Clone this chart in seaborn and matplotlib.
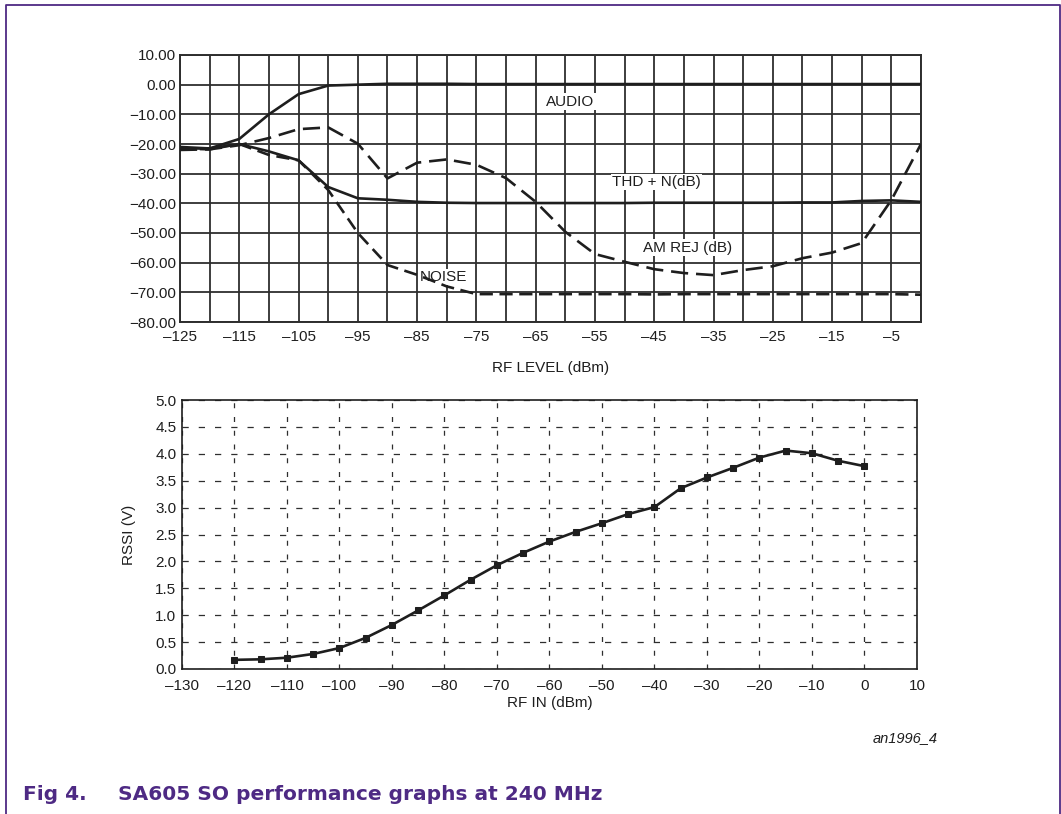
import numpy as np
import pandas as pd
import matplotlib
matplotlib.use("Agg")
import matplotlib.pyplot as plt
from matplotlib.lines import Line2D
from matplotlib.ticker import FixedLocator, FuncFormatter
import seaborn as sns

# ---------------- data: top chart ----------------
rf_level = [-125, -120, -115, -110, -105, -100, -95, -90, -85, -80, -75, -70, -65,
            -60, -55, -50, -45, -40, -35, -30, -25, -20, -15, -10, -5, 0]
audio = [-21.5, -21.5, -18.3, -10.0, -3.2, -0.3, 0.0, 0.3, 0.3, 0.3, 0.2, 0.2, 0.2,
         0.2, 0.2, 0.2, 0.2, 0.2, 0.2, 0.2, 0.2, 0.2, 0.2, 0.2, 0.2, 0.2]
am_rej = [-22.0, -21.8, -20.4, -18.0, -15.0, -14.4, -19.9, -31.6, -26.3, -25.2, -27.0,
          -31.5, -39.5, -49.6, -57.1, -59.7, -62.2, -63.5, -64.2, -62.5, -61.2, -58.5,
          -56.6, -53.4, -38.9, -20.0]
thd_n = [-21.0, -21.5, -20.0, -22.5, -25.5, -34.5, -38.3, -38.8, -39.5, -39.8, -39.9,
         -39.9, -39.9, -39.9, -39.9, -39.9, -39.8, -39.8, -39.8, -39.8, -39.8, -39.7,
         -39.7, -39.2, -39.0, -39.5]
noise = [-21.5, -21.8, -20.0, -23.7, -25.5, -35.5, -50.0, -60.8, -64.1, -68.0, -70.6,
         -70.6, -70.6, -70.6, -70.6, -70.6, -70.7, -70.6, -70.6, -70.6, -70.6, -70.6,
         -70.6, -70.6, -70.6, -70.8]

top_xticks = [-125, -115, -105, -95, -85, -75, -65, -55, -45, -35, -25, -15, -5]
top_yticks = [10, 0, -10, -20, -30, -40, -50, -60, -70, -80]

# ---------------- data: bottom chart ----------------
rf_in = [-120, -115, -110, -105, -100, -95, -90, -85, -80, -75, -70, -65, -60,
         -55, -50, -45, -40, -35, -30, -25, -20, -15, -10, -5, 0]
rssi = [0.17, 0.18, 0.21, 0.28, 0.39, 0.58, 0.82, 1.09, 1.37, 1.66, 1.93, 2.16, 2.37,
        2.55, 2.71, 2.88, 3.01, 3.36, 3.56, 3.74, 3.93, 4.06, 4.01, 3.87, 3.77]

bottom_xticks = [-130, -120, -110, -100, -90, -80, -70, -60, -50, -40, -30, -20, -10, 0, 10]
bottom_yticks = [0.0, 0.5, 1.0, 1.5, 2.0, 2.5, 3.0, 3.5, 4.0, 4.5, 5.0]

# ---------------- style ----------------
sns.set_style("white")
plt.rcParams["font.family"] = ["Liberation Sans", "DejaVu Sans"]
plt.rcParams["axes.unicode_minus"] = True

W, H = 1061, 814
fig = plt.figure(figsize=(W / 100, H / 100), dpi=100)
fig.patch.set_facecolor("white")

PURPLE = "#4e2a84"
INK = "#1e1e1e"
GRID = "#2e2e2e"
FS = 11

def frac(x0, y0, x1, y1):
    return [x0 / W, 1 - y1 / H, (x1 - x0) / W, (y1 - y0) / H]

# ---------------- top chart ----------------
ax1 = fig.add_axes(frac(180, 55, 921, 322))
df_top = pd.DataFrame({"rf": rf_level, "audio": audio, "am": am_rej,
                       "thd": thd_n, "noise": noise})
sns.lineplot(data=df_top, x="rf", y="audio", ax=ax1, color=INK, lw=1.9,
             estimator=None, sort=False, zorder=5)
sns.lineplot(data=df_top, x="rf", y="thd", ax=ax1, color=INK, lw=1.9,
             estimator=None, sort=False, zorder=5)
sns.lineplot(data=df_top, x="rf", y="noise", ax=ax1, color=INK, lw=1.9,
             linestyle=(0, (5, 2.5)), estimator=None, sort=False, zorder=5)
sns.lineplot(data=df_top, x="rf", y="am", ax=ax1, color=INK, lw=1.9,
             linestyle=(0, (6.5, 3)), estimator=None, sort=False, zorder=5)

ax1.set_xlim(-125, 0)
ax1.set_ylim(-80, 10)
ax1.xaxis.set_major_locator(FixedLocator(top_xticks))
ax1.xaxis.set_minor_locator(FixedLocator([v for v in range(-120, 1, 10)]))
ax1.yaxis.set_major_locator(FixedLocator(top_yticks))
ax1.yaxis.set_major_formatter(FuncFormatter(lambda v, p: f"{v:.2f}".replace("-", "\u2212")))
ax1.xaxis.set_major_formatter(FuncFormatter(lambda v, p: f"{int(v)}".replace("-", "\u2013")))
ax1.grid(True, which="both", color=GRID, lw=1.3)
ax1.set_axisbelow(True)
ax1.tick_params(axis="both", which="both", length=0, labelsize=FS, colors=INK)
ax1.tick_params(axis="x", pad=6)
ax1.tick_params(axis="y", pad=3)
for s in ax1.spines.values():
    s.set_color(GRID)
    s.set_linewidth(1.4)
ax1.set_xlabel("RF LEVEL (dBm)", fontsize=FS, color=INK, labelpad=12)
ax1.set_ylabel("")

bb = dict(facecolor="white", edgecolor="none", pad=1.0)
ax1.text(-59.2, -5.8, "AUDIO", fontsize=FS, ha="center", va="center", color=INK, bbox=bb, zorder=6)
ax1.text(-44.6, -32.8, "THD + N(dB)", fontsize=FS, ha="center", va="center", color=INK, bbox=bb, zorder=6)
ax1.text(-39.3, -55.0, "AM REJ (dB)", fontsize=FS, ha="center", va="center", color=INK, bbox=bb, zorder=6)
ax1.text(-80.6, -64.8, "NOISE", fontsize=FS, ha="center", va="center", color=INK, bbox=bb, zorder=4)

# ---------------- bottom chart ----------------
ax2 = fig.add_axes(frac(182, 400, 917, 669))
df_bot = pd.DataFrame({"rf": rf_in, "rssi": rssi})
sns.lineplot(data=df_bot, x="rf", y="rssi", ax=ax2, color=INK, lw=1.9,
             marker="s", markersize=4.5, markeredgecolor=INK, markerfacecolor=INK,
             estimator=None, sort=False, zorder=5)
ax2.set_xlim(-130, 10)
ax2.set_ylim(0, 5)
ax2.xaxis.set_major_locator(FixedLocator(bottom_xticks))
ax2.yaxis.set_major_locator(FixedLocator(bottom_yticks))
ax2.yaxis.set_major_formatter(FuncFormatter(lambda v, p: f"{v:.1f}"))
ax2.xaxis.set_major_formatter(FuncFormatter(lambda v, p: f"{int(v)}".replace("-", "\u2013")))
ax2.xaxis.grid(True, color=GRID, lw=0.9, linestyle=(0, (4, 7)))
ax2.yaxis.grid(True, color=GRID, lw=0.9, linestyle=(0, (5, 8)))
ax2.set_axisbelow(True)
ax2.tick_params(axis="both", which="both", length=0, labelsize=FS, colors=INK)
ax2.tick_params(axis="x", pad=7)
ax2.tick_params(axis="y", pad=4)
for s in ax2.spines.values():
    s.set_color(INK)
    s.set_linewidth(1.2)
ax2.set_xlabel("RF IN (dBm)", fontsize=FS, color=INK, labelpad=2)
ax2.set_ylabel("RSSI (V)", fontsize=FS, color=INK, labelpad=14)

# ---------------- annotations / frame ----------------
fig.text(905 / W, 1 - 738 / H, "an1996_4", fontsize=10.5, style="italic",
         ha="center", va="center", color=INK)
fig.text(23 / W, 1 - 794 / H, "Fig 4.", fontsize=14.5, weight="bold",
         family="DejaVu Sans", ha="left", va="center", color=PURPLE)
fig.text(118 / W, 1 - 794 / H, "SA605 SO performance graphs at 240 MHz", fontsize=14.5,
         weight="bold", family="DejaVu Sans", ha="left", va="center", color=PURPLE)

px = lambda x: x / W
py = lambda y: 1 - y / H
fig.add_artist(Line2D([px(6), px(6), px(1059.5), px(1059.5)],
                      [py(814), py(4.5), py(4.5), py(814)],
                      color=PURPLE, lw=1.3, transform=fig.transFigure))

fig.savefig("out.png", dpi=100)
